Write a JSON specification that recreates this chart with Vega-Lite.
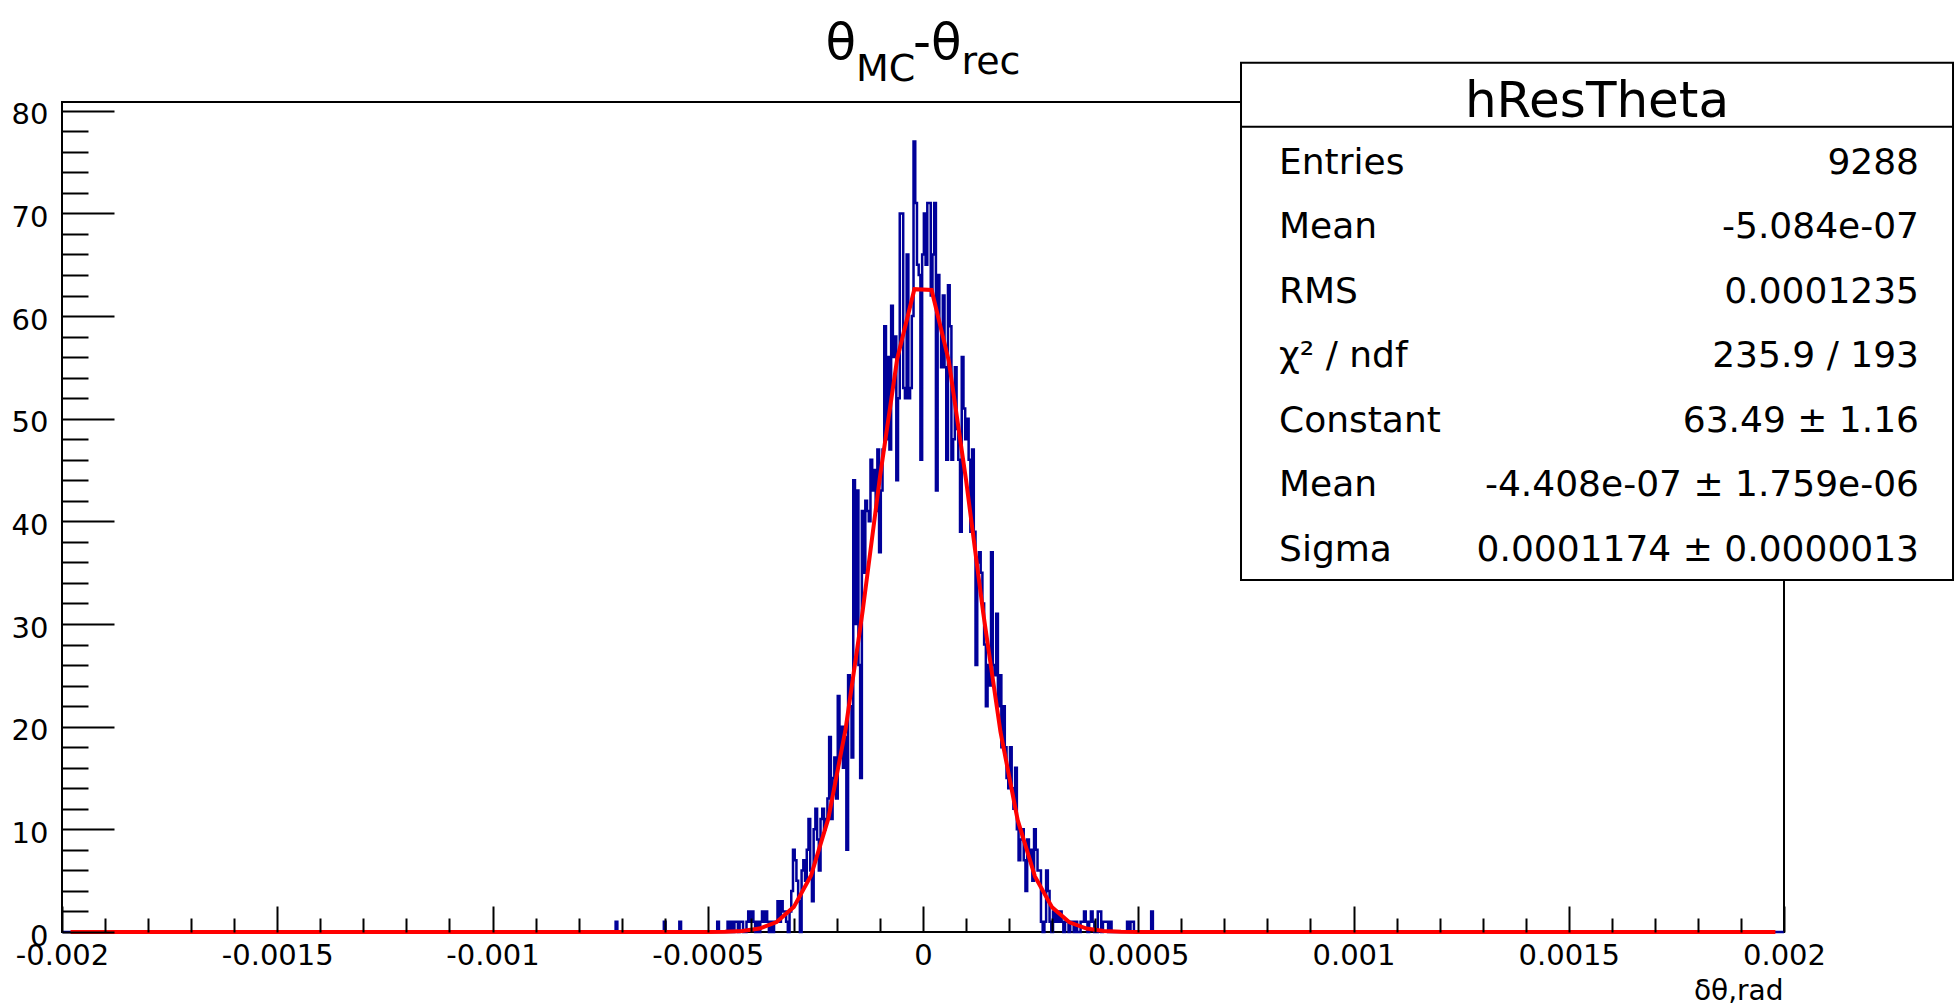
{
  "$schema": "https://vega.github.io/schema/vega-lite/v6.json",
  "width": 1722,
  "height": 830,
  "autosize": {"type": "none"},
  "padding": {"left": 62, "top": 102, "right": 172, "bottom": 74},
  "background": "white",
  "config": {
    "view": {"stroke": "#000000", "strokeWidth": 2},
    "font": "DejaVu Sans",
    "axis": {"grid": false, "domain": false, "labelFont": "DejaVu Sans", "titleFont": "DejaVu Sans", "labelColor": "#000000", "titleColor": "#000000", "tickColor": "#000000"}
  },
  "datasets": {
    "hist": [
      {"x": -0.002, "n": 0},
      {"x": -0.000716, "n": 0}, {"x": -0.000712, "n": 1}, {"x": -0.000708, "n": 0},
      {"x": -0.000604, "n": 0}, {"x": -0.0006, "n": 1}, {"x": -0.000596, "n": 0},
      {"x": -0.000568, "n": 0}, {"x": -0.000564, "n": 1}, {"x": -0.00056, "n": 0},
      {"x": -0.0005, "n": 0}, {"x": -0.000496, "n": 0}, {"x": -0.000492, "n": 0}, {"x": -0.000488, "n": 0},
      {"x": -0.000484, "n": 0}, {"x": -0.00048, "n": 0}, {"x": -0.000476, "n": 1}, {"x": -0.000472, "n": 0},
      {"x": -0.000468, "n": 0}, {"x": -0.000464, "n": 0}, {"x": -0.00046, "n": 0}, {"x": -0.000456, "n": 0},
      {"x": -0.000452, "n": 1}, {"x": -0.000448, "n": 0}, {"x": -0.000444, "n": 1}, {"x": -0.00044, "n": 0},
      {"x": -0.000436, "n": 1}, {"x": -0.000432, "n": 1}, {"x": -0.000428, "n": 0}, {"x": -0.000424, "n": 1},
      {"x": -0.00042, "n": 1}, {"x": -0.000416, "n": 0}, {"x": -0.000412, "n": 0}, {"x": -0.000408, "n": 1},
      {"x": -0.000404, "n": 2}, {"x": -0.0004, "n": 1}, {"x": -0.000396, "n": 2}, {"x": -0.000392, "n": 1},
      {"x": -0.000388, "n": 0}, {"x": -0.000384, "n": 1}, {"x": -0.00038, "n": 0}, {"x": -0.000376, "n": 1},
      {"x": -0.000372, "n": 2}, {"x": -0.000368, "n": 1}, {"x": -0.000364, "n": 2}, {"x": -0.00036, "n": 1},
      {"x": -0.000356, "n": 0}, {"x": -0.000352, "n": 1}, {"x": -0.000348, "n": 0}, {"x": -0.000344, "n": 1},
      {"x": -0.00034, "n": 1}, {"x": -0.000336, "n": 3}, {"x": -0.000332, "n": 1}, {"x": -0.000328, "n": 3},
      {"x": -0.000324, "n": 2}, {"x": -0.00032, "n": 2}, {"x": -0.000316, "n": 1}, {"x": -0.000312, "n": 0},
      {"x": -0.000308, "n": 2}, {"x": -0.000304, "n": 4}, {"x": -0.0003, "n": 8}, {"x": -0.000296, "n": 7},
      {"x": -0.000292, "n": 5}, {"x": -0.000288, "n": 3}, {"x": -0.000284, "n": 0}, {"x": -0.00028, "n": 6},
      {"x": -0.000276, "n": 7}, {"x": -0.000272, "n": 5}, {"x": -0.000268, "n": 8}, {"x": -0.000264, "n": 11},
      {"x": -0.00026, "n": 6}, {"x": -0.000256, "n": 3}, {"x": -0.000252, "n": 10}, {"x": -0.000248, "n": 12},
      {"x": -0.000244, "n": 9}, {"x": -0.00024, "n": 6}, {"x": -0.000236, "n": 11}, {"x": -0.000232, "n": 12},
      {"x": -0.000228, "n": 10}, {"x": -0.000224, "n": 11}, {"x": -0.00022, "n": 13}, {"x": -0.000216, "n": 19},
      {"x": -0.000212, "n": 11}, {"x": -0.000208, "n": 15}, {"x": -0.000204, "n": 17}, {"x": -0.0002, "n": 13},
      {"x": -0.000196, "n": 23}, {"x": -0.000192, "n": 17}, {"x": -0.000188, "n": 20}, {"x": -0.000184, "n": 16},
      {"x": -0.00018, "n": 19}, {"x": -0.000176, "n": 8}, {"x": -0.000172, "n": 25}, {"x": -0.000168, "n": 22},
      {"x": -0.000164, "n": 17}, {"x": -0.00016, "n": 44}, {"x": -0.000156, "n": 30}, {"x": -0.000152, "n": 43},
      {"x": -0.000148, "n": 26}, {"x": -0.000144, "n": 15}, {"x": -0.00014, "n": 41}, {"x": -0.000136, "n": 35},
      {"x": -0.000132, "n": 42}, {"x": -0.000128, "n": 41}, {"x": -0.000124, "n": 40}, {"x": -0.00012, "n": 46},
      {"x": -0.000116, "n": 43}, {"x": -0.000112, "n": 45}, {"x": -0.000108, "n": 41}, {"x": -0.000104, "n": 47},
      {"x": -0.0001, "n": 37}, {"x": -0.000096, "n": 43}, {"x": -0.000092, "n": 47}, {"x": -0.000088, "n": 59},
      {"x": -0.000084, "n": 48}, {"x": -0.00008, "n": 56}, {"x": -0.000076, "n": 47}, {"x": -0.000072, "n": 61},
      {"x": -0.000068, "n": 56}, {"x": -0.000064, "n": 58}, {"x": -0.00006, "n": 44}, {"x": -0.000056, "n": 52},
      {"x": -0.000052, "n": 70}, {"x": -0.000048, "n": 70}, {"x": -0.000044, "n": 53}, {"x": -0.00004, "n": 52},
      {"x": -0.000036, "n": 66}, {"x": -0.000032, "n": 52}, {"x": -0.000028, "n": 53}, {"x": -0.000024, "n": 60},
      {"x": -0.00002, "n": 77}, {"x": -0.000016, "n": 71}, {"x": -0.000012, "n": 65}, {"x": -0.000008, "n": 64},
      {"x": -0.000004, "n": 46}, {"x": 0, "n": 66}, {"x": 0.000004, "n": 70}, {"x": 0.000008, "n": 65},
      {"x": 0.000012, "n": 71}, {"x": 0.000016, "n": 71}, {"x": 0.00002, "n": 62}, {"x": 0.000024, "n": 66},
      {"x": 0.000028, "n": 71}, {"x": 0.000032, "n": 43}, {"x": 0.000036, "n": 64}, {"x": 0.00004, "n": 59},
      {"x": 0.000044, "n": 55}, {"x": 0.000048, "n": 62}, {"x": 0.000052, "n": 55}, {"x": 0.000056, "n": 46},
      {"x": 0.00006, "n": 63}, {"x": 0.000064, "n": 59}, {"x": 0.000068, "n": 46}, {"x": 0.000072, "n": 48},
      {"x": 0.000076, "n": 55}, {"x": 0.00008, "n": 49}, {"x": 0.000084, "n": 46}, {"x": 0.000088, "n": 39},
      {"x": 0.000092, "n": 56}, {"x": 0.000096, "n": 51}, {"x": 0.0001, "n": 48}, {"x": 0.000104, "n": 50},
      {"x": 0.000108, "n": 46}, {"x": 0.000112, "n": 39}, {"x": 0.000116, "n": 47}, {"x": 0.00012, "n": 39},
      {"x": 0.000124, "n": 26}, {"x": 0.000128, "n": 36}, {"x": 0.000132, "n": 37}, {"x": 0.000136, "n": 35},
      {"x": 0.00014, "n": 32}, {"x": 0.000144, "n": 28}, {"x": 0.000148, "n": 22}, {"x": 0.000152, "n": 26},
      {"x": 0.000156, "n": 24}, {"x": 0.00016, "n": 37}, {"x": 0.000164, "n": 26}, {"x": 0.000168, "n": 25},
      {"x": 0.000172, "n": 31}, {"x": 0.000176, "n": 22}, {"x": 0.00018, "n": 25}, {"x": 0.000184, "n": 18},
      {"x": 0.000188, "n": 22}, {"x": 0.000192, "n": 18}, {"x": 0.000196, "n": 15}, {"x": 0.0002, "n": 14},
      {"x": 0.000204, "n": 18}, {"x": 0.000208, "n": 14}, {"x": 0.000212, "n": 12}, {"x": 0.000216, "n": 16},
      {"x": 0.00022, "n": 10}, {"x": 0.000224, "n": 7}, {"x": 0.000228, "n": 9}, {"x": 0.000232, "n": 10},
      {"x": 0.000236, "n": 7}, {"x": 0.00024, "n": 4}, {"x": 0.000244, "n": 9}, {"x": 0.000248, "n": 7},
      {"x": 0.000252, "n": 8}, {"x": 0.000256, "n": 5}, {"x": 0.00026, "n": 10}, {"x": 0.000264, "n": 8},
      {"x": 0.000268, "n": 6}, {"x": 0.000272, "n": 6}, {"x": 0.000276, "n": 1}, {"x": 0.00028, "n": 0},
      {"x": 0.000284, "n": 1}, {"x": 0.000288, "n": 6}, {"x": 0.000292, "n": 4}, {"x": 0.000296, "n": 1},
      {"x": 0.0003, "n": 0}, {"x": 0.000304, "n": 2}, {"x": 0.000308, "n": 1}, {"x": 0.000312, "n": 2},
      {"x": 0.000316, "n": 1}, {"x": 0.00032, "n": 2}, {"x": 0.000324, "n": 1}, {"x": 0.000328, "n": 0},
      {"x": 0.000332, "n": 1}, {"x": 0.000336, "n": 1}, {"x": 0.00034, "n": 0}, {"x": 0.000344, "n": 1},
      {"x": 0.000348, "n": 1}, {"x": 0.000352, "n": 0}, {"x": 0.000356, "n": 1}, {"x": 0.00036, "n": 0},
      {"x": 0.000364, "n": 0}, {"x": 0.000368, "n": 1}, {"x": 0.000372, "n": 1}, {"x": 0.000376, "n": 2},
      {"x": 0.00038, "n": 1}, {"x": 0.000384, "n": 0}, {"x": 0.000388, "n": 1}, {"x": 0.000392, "n": 2},
      {"x": 0.000396, "n": 1}, {"x": 0.0004, "n": 0}, {"x": 0.000404, "n": 0}, {"x": 0.000408, "n": 2},
      {"x": 0.000412, "n": 2}, {"x": 0.000416, "n": 0}, {"x": 0.00042, "n": 1}, {"x": 0.000424, "n": 1},
      {"x": 0.000428, "n": 1}, {"x": 0.000432, "n": 0}, {"x": 0.000436, "n": 1}, {"x": 0.00044, "n": 0},
      {"x": 0.000472, "n": 0}, {"x": 0.000476, "n": 1}, {"x": 0.00048, "n": 0}, {"x": 0.000484, "n": 1},
      {"x": 0.000488, "n": 1}, {"x": 0.000492, "n": 0}, {"x": 0.000528, "n": 0}, {"x": 0.000532, "n": 2},
      {"x": 0.000536, "n": 0}, {"x": 0.002, "n": 0}
    ],
    "fit": [
      {"x": -0.00198, "f": 0}, {"x": -0.00194, "f": 0}, {"x": -0.0019, "f": 0}, {"x": -0.00186, "f": 0},
      {"x": -0.00182, "f": 0}, {"x": -0.00178, "f": 0}, {"x": -0.00174, "f": 0}, {"x": -0.0017, "f": 0},
      {"x": -0.00166, "f": 0}, {"x": -0.00162, "f": 0}, {"x": -0.00158, "f": 0}, {"x": -0.00154, "f": 0},
      {"x": -0.0015, "f": 0}, {"x": -0.00146, "f": 0}, {"x": -0.00142, "f": 0}, {"x": -0.00138, "f": 0},
      {"x": -0.00134, "f": 0}, {"x": -0.0013, "f": 0}, {"x": -0.00126, "f": 0}, {"x": -0.00122, "f": 0},
      {"x": -0.00118, "f": 0}, {"x": -0.00114, "f": 0}, {"x": -0.0011, "f": 0}, {"x": -0.00106, "f": 0},
      {"x": -0.00102, "f": 0}, {"x": -0.00098, "f": 0}, {"x": -0.00094, "f": 0}, {"x": -0.0009, "f": 0},
      {"x": -0.00086, "f": 0}, {"x": -0.00082, "f": 0}, {"x": -0.00078, "f": 0}, {"x": -0.00074, "f": 0},
      {"x": -0.0007, "f": 0}, {"x": -0.00066, "f": 0}, {"x": -0.00062, "f": 0}, {"x": -0.00058, "f": 0.0003},
      {"x": -0.00054, "f": 0.0017}, {"x": -0.0005, "f": 0.0074}, {"x": -0.00046, "f": 0.03}, {"x": -0.00042, "f": 0.107},
      {"x": -0.00038, "f": 0.341}, {"x": -0.00034, "f": 0.969}, {"x": -0.0003, "f": 2.449}, {"x": -0.00026, "f": 5.51},
      {"x": -0.00022, "f": 11.04}, {"x": -0.00018, "f": 19.71}, {"x": -0.00014, "f": 31.32}, {"x": -0.0001, "f": 44.31},
      {"x": -0.00006, "f": 55.82}, {"x": -0.00002, "f": 62.62}, {"x": 0.00002, "f": 62.54}, {"x": 0.00006, "f": 55.61},
      {"x": 0.0001, "f": 44.03}, {"x": 0.00014, "f": 31.04}, {"x": 0.00018, "f": 19.49}, {"x": 0.00022, "f": 10.89},
      {"x": 0.00026, "f": 5.42}, {"x": 0.0003, "f": 2.4}, {"x": 0.00034, "f": 0.948}, {"x": 0.00038, "f": 0.333},
      {"x": 0.00042, "f": 0.104}, {"x": 0.00046, "f": 0.029}, {"x": 0.0005, "f": 0.0072}, {"x": 0.00054, "f": 0.0016},
      {"x": 0.00058, "f": 0.0003}, {"x": 0.00062, "f": 0}, {"x": 0.00066, "f": 0}, {"x": 0.0007, "f": 0},
      {"x": 0.00074, "f": 0}, {"x": 0.00078, "f": 0}, {"x": 0.00082, "f": 0}, {"x": 0.00086, "f": 0},
      {"x": 0.0009, "f": 0}, {"x": 0.00094, "f": 0}, {"x": 0.00098, "f": 0}, {"x": 0.00102, "f": 0},
      {"x": 0.00106, "f": 0}, {"x": 0.0011, "f": 0}, {"x": 0.00114, "f": 0}, {"x": 0.00118, "f": 0},
      {"x": 0.00122, "f": 0}, {"x": 0.00126, "f": 0}, {"x": 0.0013, "f": 0}, {"x": 0.00134, "f": 0},
      {"x": 0.00138, "f": 0}, {"x": 0.00142, "f": 0}, {"x": 0.00146, "f": 0}, {"x": 0.0015, "f": 0},
      {"x": 0.00154, "f": 0}, {"x": 0.00158, "f": 0}, {"x": 0.00162, "f": 0}, {"x": 0.00166, "f": 0},
      {"x": 0.0017, "f": 0}, {"x": 0.00174, "f": 0}, {"x": 0.00178, "f": 0}, {"x": 0.00182, "f": 0},
      {"x": 0.00186, "f": 0}, {"x": 0.0019, "f": 0}, {"x": 0.00194, "f": 0}, {"x": 0.00198, "f": 0}
    ],
    "titleMain": [
      {"t": "θ", "x": -0.0002265, "y": 85.04},
      {"t": "-θ", "x": -0.0000232, "y": 85.04}
    ],
    "titleSub": [
      {"t": "MC", "x": -0.0001556, "y": 82.87},
      {"t": "rec", "x": 0.0000892, "y": 83.55}
    ],
    "stats": [
      {"name": "Entries", "val": "9288", "y": 73.87},
      {"name": "Mean", "val": "-5.084e-07", "y": 67.62},
      {"name": "RMS", "val": "0.0001235", "y": 61.29},
      {"name": "χ² / ndf", "val": "235.9 / 193", "y": 55.05},
      {"name": "Constant", "val": "63.49 ± 1.16", "y": 48.72},
      {"name": "Mean", "val": "-4.408e-07 ± 1.759e-06", "y": 42.44},
      {"name": "Sigma", "val": "0.0001174 ± 0.0000013", "y": 36.15}
    ]
  },
  "layer": [
    {
      "data": {"name": "hist"},
      "mark": {"type": "line", "interpolate": "step", "stroke": "#000099", "strokeWidth": 2.5},
      "encoding": {
        "x": {"field": "x", "type": "quantitative", "scale": {"domain": [-0.002, 0.002], "nice": false, "zero": false},
          "axis": {"orient": "bottom", "values": [-0.002, -0.0015, -0.001, -0.0005, 0, 0.0005, 0.001, 0.0015, 0.002],
            "labelExpr": "'' + datum.value", "ticks": false, "labelFontSize": 29, "labelPadding": 32,
            "labelBaseline": "alphabetic", "labelFlush": false, "labelOverlap": false, "labelBound": false,
            "title": "δθ,rad", "titleFontSize": 28, "titleFontWeight": "normal", "titleX": 1721, "titleY": 67,
            "titleAlign": "right", "titleBaseline": "alphabetic"}},
        "y": {"field": "n", "type": "quantitative", "scale": {"domain": [0, 80.85], "nice": false, "zero": false},
          "axis": {"orient": "left", "values": [0, 10, 20, 30, 40, 50, 60, 70, 80], "ticks": false, "labelFontSize": 29,
            "labelPadding": 14, "labelBaseline": "alphabetic", "labelOffset": 13, "labelAlign": "right",
            "labelFlush": false, "labelOverlap": false, "labelBound": false, "title": null}}
      }
    },
    {
      "data": {"name": "fit"},
      "mark": {"type": "line", "stroke": "#ff0000", "strokeWidth": 4},
      "encoding": {
        "x": {"field": "x", "type": "quantitative", "scale": {"domain": [-0.002, 0.002], "nice": false, "zero": false},
          "axis": {"orient": "bottom", "values": [-0.002, -0.0015, -0.001, -0.0005, 0, 0.0005, 0.001, 0.0015, 0.002],
            "labels": false, "ticks": true, "tickSize": -26, "tickWidth": 2, "title": null, "zindex": 1}},
        "y": {"field": "f", "type": "quantitative", "scale": {"domain": [0, 80.85], "nice": false, "zero": false},
          "axis": {"orient": "left", "values": [0, 10, 20, 30, 40, 50, 60, 70, 80], "labels": false, "ticks": true,
            "tickSize": -52, "tickWidth": 2, "title": null, "zindex": 1}}
      }
    },
    {
      "data": {"name": "titleMain"},
      "mark": {"type": "text", "align": "left", "baseline": "alphabetic", "fontSize": 50, "font": "DejaVu Sans", "color": "#000000"},
      "encoding": {
        "x": {"field": "x", "type": "quantitative", "scale": {"domain": [-0.002, 0.002], "nice": false, "zero": false}, "axis": null},
        "y": {"field": "y", "type": "quantitative", "scale": {"domain": [0, 80.85], "nice": false, "zero": false}, "axis": null},
        "text": {"field": "t"}
      }
    },
    {
      "data": {"name": "titleSub"},
      "mark": {"type": "text", "align": "left", "baseline": "alphabetic", "fontSize": 38, "font": "DejaVu Sans", "color": "#000000"},
      "encoding": {
        "x": {"field": "x", "type": "quantitative", "scale": {"domain": [-0.002, 0.002], "nice": false, "zero": false},
          "axis": {"orient": "bottom", "values": [-0.0019, -0.0018, -0.0017, -0.0016, -0.0014, -0.0013, -0.0012, -0.0011, -0.0009, -0.0008, -0.0007, -0.0006, -0.0004, -0.0003, -0.0002, -0.0001, 0.0001, 0.0002, 0.0003, 0.0004, 0.0006, 0.0007, 0.0008, 0.0009, 0.0011, 0.0012, 0.0013, 0.0014, 0.0016, 0.0017, 0.0018, 0.0019],
            "labels": false, "ticks": true, "tickSize": -14, "tickWidth": 2, "title": null, "zindex": 1}},
        "y": {"field": "y", "type": "quantitative", "scale": {"domain": [0, 80.85], "nice": false, "zero": false},
          "axis": {"orient": "left", "values": [2, 4, 6, 8, 12, 14, 16, 18, 22, 24, 26, 28, 32, 34, 36, 38, 42, 44, 46, 48, 52, 54, 56, 58, 62, 64, 66, 68, 72, 74, 76, 78],
            "labels": false, "ticks": true, "tickSize": -26, "tickWidth": 2, "title": null, "zindex": 1}},
        "text": {"field": "t"}
      }
    },
    {
      "data": {"values": [{}]},
      "mark": {"type": "rect", "fill": "#ffffff", "stroke": "#000000", "strokeWidth": 2},
      "encoding": {
        "x": {"datum": 0.0007387, "type": "quantitative", "scale": {"domain": [-0.002, 0.002], "nice": false, "zero": false}, "axis": null},
        "x2": {"datum": 0.0023926},
        "y": {"datum": 84.68, "type": "quantitative", "scale": {"domain": [0, 80.85], "nice": false, "zero": false}, "axis": null},
        "y2": {"datum": 34.3}
      }
    },
    {
      "data": {"values": [{}]},
      "mark": {"type": "rule", "stroke": "#000000", "strokeWidth": 2},
      "encoding": {
        "x": {"datum": 0.0007387, "type": "quantitative", "scale": {"domain": [-0.002, 0.002], "nice": false, "zero": false}, "axis": null},
        "x2": {"datum": 0.0023926},
        "y": {"datum": 78.44, "type": "quantitative", "scale": {"domain": [0, 80.85], "nice": false, "zero": false}, "axis": null}
      }
    },
    {
      "data": {"values": [{"t": "hResTheta"}]},
      "mark": {"type": "text", "align": "center", "baseline": "alphabetic", "fontSize": 50, "font": "DejaVu Sans", "color": "#000000"},
      "encoding": {
        "x": {"datum": 0.0015656, "type": "quantitative", "scale": {"domain": [-0.002, 0.002], "nice": false, "zero": false}, "axis": null},
        "y": {"datum": 79.41, "type": "quantitative", "scale": {"domain": [0, 80.85], "nice": false, "zero": false}, "axis": null},
        "text": {"field": "t"}
      }
    },
    {
      "data": {"name": "stats"},
      "mark": {"type": "text", "align": "left", "baseline": "alphabetic", "fontSize": 36, "font": "DejaVu Sans", "color": "#000000"},
      "encoding": {
        "x": {"datum": 0.000827, "type": "quantitative", "scale": {"domain": [-0.002, 0.002], "nice": false, "zero": false}, "axis": null},
        "y": {"field": "y", "type": "quantitative", "scale": {"domain": [0, 80.85], "nice": false, "zero": false}, "axis": null},
        "text": {"field": "name"}
      }
    },
    {
      "data": {"name": "stats"},
      "mark": {"type": "text", "align": "right", "baseline": "alphabetic", "fontSize": 36, "font": "DejaVu Sans", "color": "#000000"},
      "encoding": {
        "x": {"datum": 0.0023136, "type": "quantitative", "scale": {"domain": [-0.002, 0.002], "nice": false, "zero": false}, "axis": null},
        "y": {"field": "y", "type": "quantitative", "scale": {"domain": [0, 80.85], "nice": false, "zero": false}, "axis": null},
        "text": {"field": "val"}
      }
    }
  ],
  "resolve": {"axis": {"x": "independent", "y": "independent"}}
}
